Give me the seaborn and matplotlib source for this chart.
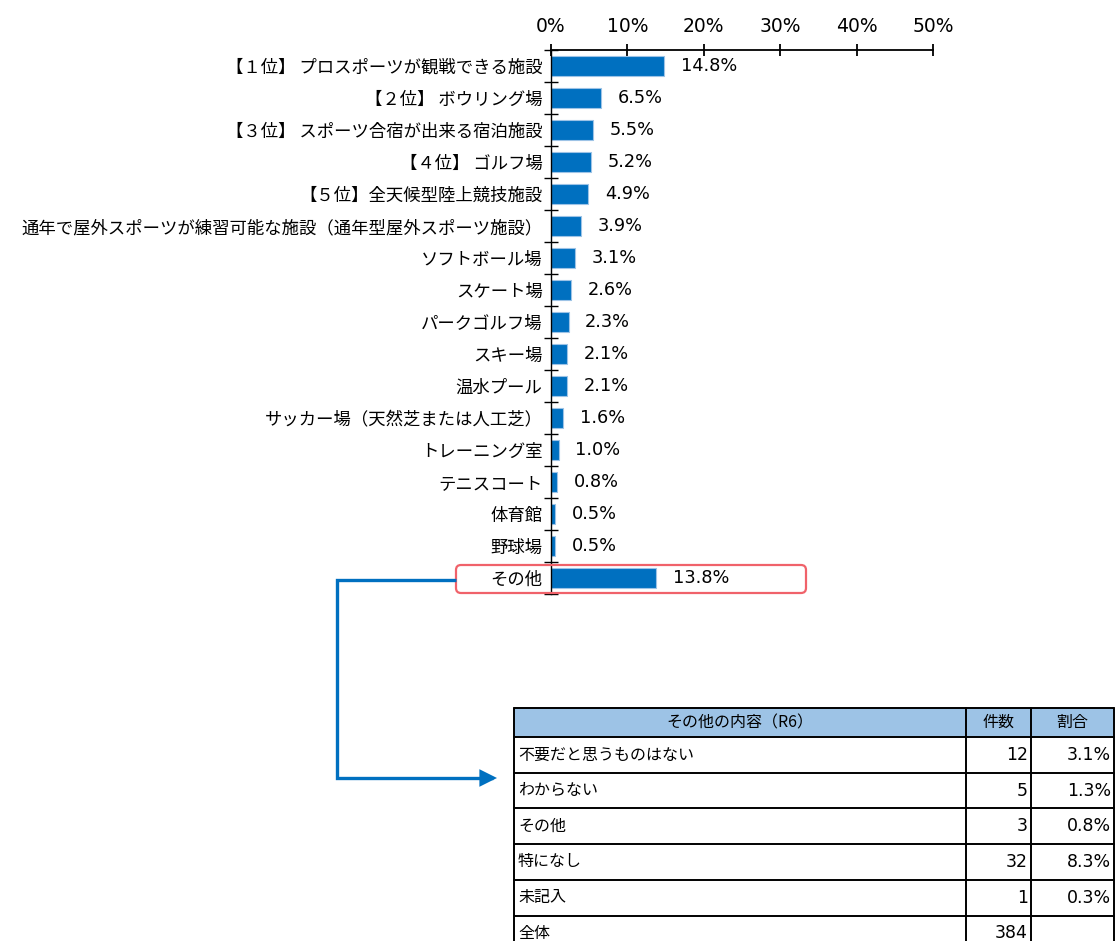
import matplotlib
matplotlib.use("Agg")
import matplotlib.pyplot as plt
import seaborn as sns
import pandas as pd
from matplotlib.patches import FancyBboxPatch, Rectangle, FancyArrowPatch
from matplotlib.path import Path
from matplotlib.ticker import FixedLocator

# ---------------- data ----------------
categories = [
    "【１位】 プロスポーツが観戦できる施設",
    "【２位】 ボウリング場",
    "【３位】 スポーツ合宿が出来る宿泊施設",
    "【４位】 ゴルフ場",
    "【５位】全天候型陸上競技施設",
    "通年で屋外スポーツが練習可能な施設（通年型屋外スポーツ施設）",
    "ソフトボール場",
    "スケート場",
    "パークゴルフ場",
    "スキー場",
    "温水プール",
    "サッカー場（天然芝または人工芝）",
    "トレーニング室",
    "テニスコート",
    "体育館",
    "野球場",
    "その他",
]
values = [14.8, 6.5, 5.5, 5.2, 4.9, 3.9, 3.1, 2.6, 2.3, 2.1, 2.1, 1.6, 1.0, 0.8, 0.5, 0.5, 13.8]
x_ticks = [0, 10, 20, 30, 40, 50]

table_header = ["その他の内容（R6）", "件数", "割合"]
other_items = ["不要だと思うものはない", "わからない", "その他", "特になし", "未記入", "全体"]
other_counts = ["12", "5", "3", "32", "1", "384"]
other_shares = ["3.1%", "1.3%", "0.8%", "8.3%", "0.3%", ""]

# ---------------- style ----------------
sns.set_theme(style="white")
FONT = ["Noto Sans CJK JP", "DejaVu Sans"]
NUMFONT = ["DejaVu Sans"]
plt.rcParams["font.family"] = FONT
BLUE = "#0070C0"

W, H = 1117, 941
fig = plt.figure(figsize=(W / 100, H / 100), dpi=100)

# main axes: x from 551 px to 933 px, y from 50 px to 594 px
ax = fig.add_axes([551 / W, 1 - 594 / H, (933 - 551) / W, (594 - 50) / H])

df = pd.DataFrame({"cat": categories, "val": values})
sns.barplot(data=df, x="val", y="cat", orient="h", color=BLUE, width=0.63,
            saturation=1, edgecolor="#9DC3E6", linewidth=0.8, ax=ax)

ax.set_xlim(0, 50)
ax.set_ylim(len(categories) - 0.5, -0.5)
ax.set_xlabel("")
ax.set_ylabel("")

# x axis on top
ax.xaxis.set_ticks_position("top")
ax.xaxis.set_label_position("top")
ax.set_xticks(x_ticks)
ax.set_xticklabels([f"{t}%" for t in x_ticks])
ax.tick_params(axis="x", which="major", direction="inout", length=8, width=1.3,
               color="black", labelsize=13.5, pad=6)

# y axis: labels without ticks, boundary ticks as minor
ax.yaxis.set_minor_locator(FixedLocator([i - 0.5 for i in range(len(categories) + 1)]))
ax.tick_params(axis="y", which="major", length=0, labelsize=12.5, pad=6)
ax.tick_params(axis="y", which="minor", direction="inout", length=10, width=1.0,
               color="black", left=True)

for side in ["right", "bottom"]:
    ax.spines[side].set_visible(False)
ax.spines["top"].set_color("black")
ax.spines["top"].set_linewidth(1.3)
ax.spines["left"].set_color("black")
ax.spines["left"].set_linewidth(1.0)
ax.grid(False)

for lbl in ax.get_yticklabels():
    lbl.set_color("black")
    lbl.set_fontfamily(FONT)
for lbl in ax.get_xticklabels():
    lbl.set_color("black")
    lbl.set_fontfamily(NUMFONT)

texts = ax.bar_label(ax.containers[0], labels=[f"{v:.1f}%" for v in values],
                     padding=12, fontsize=12.8, color="black")
for t in texts:
    t.set_fontfamily(NUMFONT)

# ---------------- red highlight box around "その他" ----------------
px = fig.dpi_scale_trans
box = FancyBboxPatch((4.56, (H - 593) / 100), 3.50, 0.28,
                     boxstyle="round,pad=0,rounding_size=0.05",
                     transform=px, fill=False, edgecolor="#F0626A", linewidth=1.6)
fig.add_artist(box)

# ---------------- connector arrow ----------------
verts = [(4.56, (H - 580) / 100), (3.37, (H - 580) / 100),
         (3.37, (H - 778) / 100), (4.97, (H - 778) / 100)]
path = Path(verts, [Path.MOVETO, Path.LINETO, Path.LINETO, Path.LINETO])
arrow = FancyArrowPatch(path=path, arrowstyle="-|>", mutation_scale=22,
                        linewidth=2.4, color=BLUE, transform=px,
                        joinstyle="miter", capstyle="butt")
fig.add_artist(arrow)

# ---------------- table ----------------
tx0, tx1, ty0, ty1 = 514, 1114, 708, 951
tax = fig.add_axes([tx0 / W, 1 - ty1 / H, (tx1 - tx0) / W, (ty1 - ty0) / H])
tax.set_xlim(0, tx1 - tx0)
tax.set_ylim(ty1 - ty0, 0)
tax.axis("off")

col_x = [0, 452, 517, 600]
row_h = [29] + [35.7] * len(other_items)
row_y = [0]
for h in row_h:
    row_y.append(row_y[-1] + h)

tax.add_patch(Rectangle((0, 0), col_x[-1], row_h[0], facecolor="#9DC3E6",
                        edgecolor="none"))
for y in row_y:
    tax.plot([0, col_x[-1]], [y, y], color="black", lw=1.4, clip_on=False)
for x in col_x:
    tax.plot([x, x], [0, row_y[-1]], color="black", lw=1.4, clip_on=False)

fs = 11.5
nfs = 12.5
for j, txt in enumerate(table_header):
    tax.text((col_x[j] + col_x[j + 1]) / 2, row_h[0] / 2, txt, ha="center",
             va="center", fontsize=fs, color="black", family=FONT)
for i in range(len(other_items)):
    yc = (row_y[i + 1] + row_y[i + 2]) / 2
    tax.text(4, yc, other_items[i], ha="left", va="center", fontsize=fs,
             color="black", family=FONT)
    tax.text(col_x[2] - 3, yc, other_counts[i], ha="right", va="center",
             fontsize=nfs, color="black", family=NUMFONT)
    tax.text(col_x[3] - 3, yc, other_shares[i], ha="right", va="center",
             fontsize=nfs, color="black", family=NUMFONT)

fig.savefig("out.png", dpi=100)
